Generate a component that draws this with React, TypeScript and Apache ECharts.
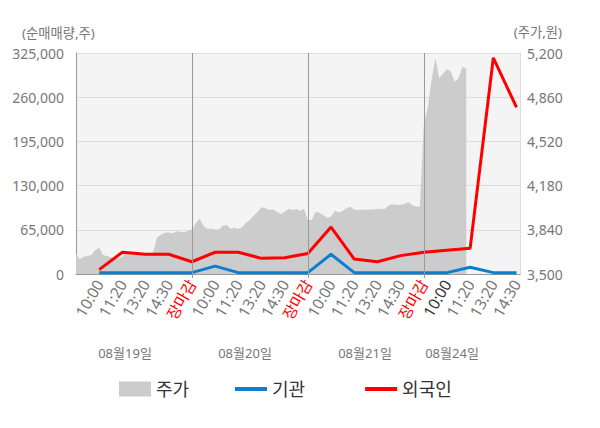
import React, { useEffect, useRef } from "react";
import * as echarts from "echarts";

// ---- data ----
const xLabels = [
  "10:00", "11:20", "13:20", "14:30", "장마감",
  "10:00", "11:20", "13:20", "14:30", "장마감",
  "10:00", "11:20", "13:20", "14:30", "장마감",
  "10:00", "11:20", "13:20", "14:30",
];
const dateLabels = ["08월19일", "08월20일", "08월21일", "08월24일"];

// net buying volume (shares), one per x label
const institution = [
  2000, 2000, 2000, 2000, 2000,
  11500, 2000, 2000, 2000, 2000,
  29000, 2000, 2000, 2000, 2000,
  2000, 10000, 2000, 2000,
];
const foreign = [
  6500, 32000, 29000, 29000, 18000,
  32000, 32000, 23000, 24000, 30000,
  69000, 22000, 18000, 27000, 32000,
  35000, 38000, 318000, 245000,
];

// intraday stock price (KRW), sampled evenly within each day
const priceDay1 = [
  3654, 3613, 3633, 3638, 3646, 3685, 3702, 3646, 3638, 3628,
  3618, 3620, 3633, 3659, 3672, 3672, 3664, 3656, 3648, 3654,
  3672, 3782, 3802, 3818, 3820, 3813, 3828, 3825, 3820, 3833,
];
const priceDay2 = [
  3843, 3890, 3925, 3869, 3846, 3848, 3843, 3843, 3871, 3877,
  3848, 3856, 3846, 3859, 3894, 3915, 3948, 3979, 4013, 4005,
  3992, 3997, 3977, 3961, 3977, 4002, 3992, 4000, 3987, 4000,
];
const priceDay3 = [
  3915, 3915, 3979, 3972, 3954, 3933, 3941, 3987, 3974, 3984,
  4005, 4018, 3997, 3992, 3997, 3992, 3997, 3997, 4002, 4000,
  4002, 4028, 4036, 4031, 4033, 4038, 4054, 4031, 4018, 4020,
];
const priceDay4 = [4646, 4774, 4992, 5159, 5005, 5043, 5076, 5056, 4979, 5005, 5094, 5076];

const volumeAxis = { min: 0, max: 325000, step: 65000 };
const priceAxis = { min: 3500, max: 5200, step: 340 };

const SLOTS_PER_DAY = 5;
const SAMPLES_PER_SLOT = 6;
const dayBoundaries = [5, 10, 15];

const FONT = "'Noto Sans', 'Noto Sans CJK KR', sans-serif";

export default function App() {
  const ref = useRef<HTMLDivElement>(null);

  useEffect(() => {
    if (!ref.current) return;
    const chart = echarts.init(ref.current, undefined, { renderer: "svg" });

    const priceData: number[][] = [];
    [priceDay1, priceDay2, priceDay3, priceDay4].forEach((day, d) => {
      day.forEach((v, k) => {
        priceData.push([d * SLOTS_PER_DAY + k / SAMPLES_PER_SLOT, v]);
      });
    });
    const instData = institution.map((v, i) => [i + 1, v]);
    const foreignData = foreign.map((v, i) => [i + 1, v]);

    const fmt = (v: number) => v.toLocaleString("en-US");

    chart.setOption({
      animation: false,
      textStyle: { fontFamily: FONT },
      grid: {
        left: 76,
        right: 80,
        top: 53,
        bottom: 154,
        show: true,
        backgroundColor: "#f4f4f4",
        borderWidth: 0,
      },
      xAxis: {
        type: "value",
        min: 0,
        max: 19.15,
        axisLine: { show: true, lineStyle: { color: "#999", width: 1 } },
        axisTick: {
          show: true,
          customValues: dayBoundaries,
          length: 4,
          lineStyle: { color: "#999" },
        },
        splitLine: { show: false },
        axisLabel: {
          customValues: xLabels.map((_, i) => i + 1),
          formatter: (v: number) => xLabels[Math.round(v) - 1] ?? "",
          rotate: 60,
          margin: 7,
          fontSize: 15.5,
          fontFamily: FONT,
          color: (v: any) => {
            const i = Math.round(Number(v)) - 1;
            if (xLabels[i] === "장마감") return "#ff0000";
            if (i === 15) return "#333";
            return "#777";
          },
        },
      },
      yAxis: [
        {
          type: "value",
          position: "left",
          min: volumeAxis.min,
          max: volumeAxis.max,
          interval: volumeAxis.step,
          axisLine: { show: true, lineStyle: { color: "#999" } },
          axisTick: { show: false },
          axisLabel: {
            formatter: fmt,
            fontSize: 14,
            color: "#777",
            margin: 12,
            fontFamily: FONT,
          },
          splitLine: { show: true, lineStyle: { color: "#dddddd", width: 1 } },
        },
        {
          type: "value",
          position: "right",
          min: priceAxis.min,
          max: priceAxis.max,
          interval: priceAxis.step,
          axisLine: { show: true, lineStyle: { color: "#dddddd" } },
          axisTick: { show: false },
          axisLabel: {
            formatter: fmt,
            fontSize: 14,
            color: "#777",
            margin: 7,
            fontFamily: FONT,
          },
          splitLine: { show: false },
        },
      ],
      legend: [
        {
          data: [{ name: "주가", icon: "rect" }],
          left: 114,
          top: 375,
          itemWidth: 32,
          itemHeight: 15,
          textStyle: { fontSize: 18, color: "#333", fontFamily: FONT },
        },
        {
          data: [
            { name: "기관", icon: "rect" },
            { name: "외국인", icon: "rect" },
          ],
          left: 230,
          top: 375,
          itemWidth: 32,
          itemHeight: 4,
          itemGap: 60,
          textStyle: { fontSize: 18, color: "#333", fontFamily: FONT },
        },
      ],
      graphic: [
        {
          type: "text",
          left: 22,
          top: 26,
          style: { text: "(순매매량,주)", fontSize: 13.3, fill: "#777", fontFamily: FONT },
        },
        {
          type: "text",
          right: 38,
          top: 25,
          style: { text: "(주가,원)", fontSize: 13.3, fill: "#777", fontFamily: FONT },
        },
        ...dateLabels.map((t, i) => ({
          type: "text",
          x: [125, 245, 365, 452][i],
          y: 353,
          style: {
            text: t,
            fontSize: 13,
            fill: "#777",
            fontFamily: FONT,
            textAlign: "center",
            textVerticalAlign: "middle",
          },
        })),
      ],
      series: [
        {
          name: "주가",
          type: "line",
          yAxisIndex: 1,
          data: priceData,
          showSymbol: false,
          symbol: "none",
          lineStyle: { width: 0 },
          itemStyle: { color: "#cccccc" },
          areaStyle: { color: "#cccccc", opacity: 1 },
          silent: true,
          markLine: {
            silent: true,
            symbol: "none",
            label: { show: false },
            lineStyle: { color: "#999", width: 1, type: "solid" },
            data: dayBoundaries.map((b) => ({ xAxis: b })),
          },
        },
        {
          name: "기관",
          type: "line",
          yAxisIndex: 0,
          data: instData,
          showSymbol: false,
          symbol: "none",
          itemStyle: { color: "#0a7fd0" },
          lineStyle: { color: "#0a7fd0", width: 3 },
        },
        {
          name: "외국인",
          type: "line",
          yAxisIndex: 0,
          data: foreignData,
          showSymbol: false,
          symbol: "none",
          itemStyle: { color: "#ff0000" },
          lineStyle: { color: "#ff0000", width: 3 },
        },
      ],
    });

    return () => chart.dispose();
  }, []);

  return (
    <div
      ref={ref}
      style={{ position: "fixed", left: 0, top: 0, width: 600, height: 428, background: "#fff" }}
    />
  );
}
